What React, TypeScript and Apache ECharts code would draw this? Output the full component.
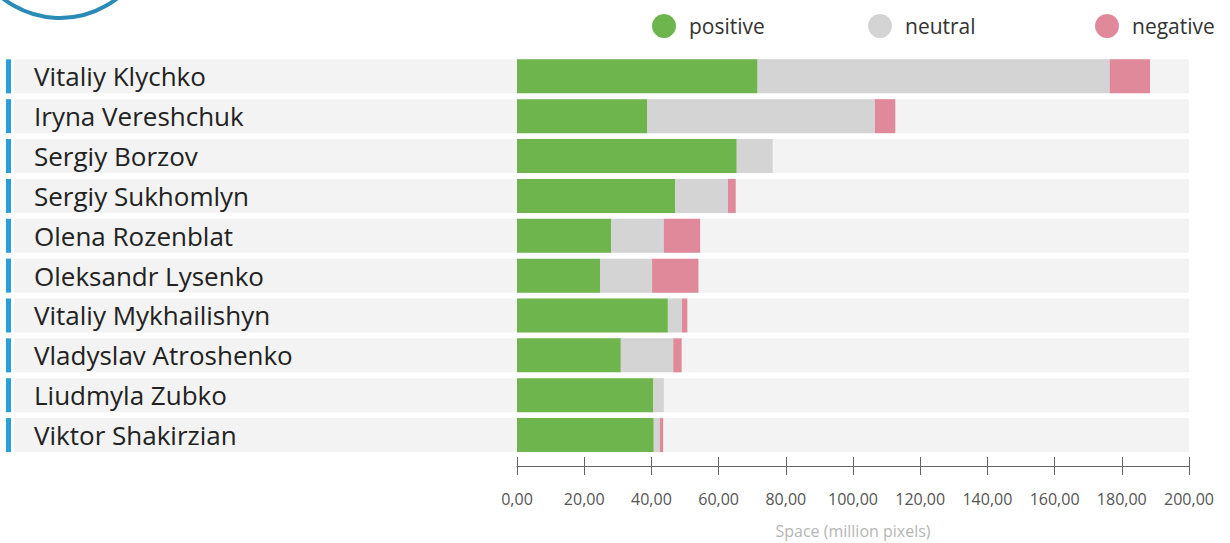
import React, { useEffect, useRef } from "react";
import * as echarts from "echarts";

const names = [
  "Vitaliy Klychko",
  "Iryna Vereshchuk",
  "Sergiy Borzov",
  "Sergiy Sukhomlyn",
  "Olena Rozenblat",
  "Oleksandr Lysenko",
  "Vitaliy Mykhailishyn",
  "Vladyslav Atroshenko",
  "Liudmyla Zubko",
  "Viktor Shakirzian",
];
const positive = [71.6, 38.8, 65.4, 47.1, 28.0, 24.7, 44.9, 30.9, 40.6, 40.7];
const neutral = [104.8, 67.7, 10.7, 15.7, 15.7, 15.5, 4.2, 15.6, 3.1, 1.8];
const negative = [12.0, 6.1, 0, 2.3, 10.8, 13.8, 1.6, 2.5, 0, 1.0];
const seriesNames = ["positive", "neutral", "negative"];
const colors = ["#6db54c", "#d4d4d4", "#e0899a"];
const xMin = 0;
const xMax = 200;
const xStep = 20;
const axisTitle = "Space (million pixels)";

const FONT = "'Open Sans', 'Noto Sans', sans-serif";

export default function App() {
  const ref = useRef<HTMLDivElement>(null);
  useEffect(() => {
    if (!ref.current) return;
    const chart = echarts.init(ref.current, undefined, { renderer: "svg" });
    const gridTop = 56.4;
    const gridHeight = 398.6;
    const barW = 34;
    const fmt = (v: number) => v.toFixed(2).replace(".", ",");
    const legendLefts = [652, 868, 1095];
    const gridBase = {
      top: gridTop,
      height: gridHeight,
      containLabel: false,
      outerBoundsMode: "none",
    };
    chart.setOption({
      animation: false,
      backgroundColor: "#ffffff",
      textStyle: { fontFamily: FONT },
      graphic: [
        {
          type: "circle",
          shape: { cx: 60, cy: -75, r: 93 },
          style: { fill: "none", stroke: "#2a8ab8", lineWidth: 4 },
          silent: true,
        },
      ],
      legend: seriesNames.map((n, i) => ({
        data: [{ name: n, itemStyle: { color: colors[i] } }],
        left: legendLefts[i],
        top: 14,
        icon: "circle",
        itemWidth: 24,
        itemHeight: 24,
        padding: 0,
        selectedMode: false,
        textStyle: {
          fontSize: 21,
          color: "#333333",
          fontFamily: FONT,
          padding: [0, 0, 0, 8],
        },
      })),
      grid: [
        { ...gridBase, left: 517, right: 41 },
        { ...gridBase, left: 14, right: 41 },
        { ...gridBase, left: 6, width: 5 },
      ],
      xAxis: [
        {
          gridIndex: 0,
          type: "value",
          min: xMin,
          max: xMax,
          interval: xStep,
          position: "bottom",
          offset: 11,
          z: 10,
          axisLine: { show: true, lineStyle: { color: "#666666", width: 1 } },
          axisTick: { show: true, length: 9, lineStyle: { color: "#666666" } },
          splitLine: { show: false },
          axisLabel: {
            formatter: fmt,
            fontSize: 16,
            color: "#555555",
            margin: 25,
            fontFamily: FONT,
          },
          name: axisTitle,
          nameLocation: "middle",
          nameGap: 57,
          nameTextStyle: { color: "#b5b5b5", fontSize: 16, fontFamily: FONT },
        },
        {
          gridIndex: 0,
          type: "value",
          min: xMin,
          max: xMax,
          interval: xStep,
          position: "bottom",
          offset: 11,
          z: 10,
          axisLine: { show: false },
          axisTick: { show: true, inside: true, length: 9, lineStyle: { color: "#666666" } },
          splitLine: { show: false },
          axisLabel: { show: false },
        },
        { gridIndex: 1, type: "value", min: 0, max: 1, show: false },
        { gridIndex: 2, type: "value", min: 0, max: 1, show: false },
      ],
      yAxis: [
        {
          gridIndex: 0,
          type: "category",
          inverse: true,
          data: names,
          z: 10,
          axisLine: { show: false },
          axisTick: { show: false },
          axisLabel: {
            align: "left",
            margin: 483,
            fontSize: 26,
            color: "#222222",
            fontFamily: FONT,
          },
        },
        { gridIndex: 1, type: "category", inverse: true, data: names, show: false },
        { gridIndex: 2, type: "category", inverse: true, data: names, show: false },
      ],
      series: [
        {
          name: "band",
          type: "bar",
          xAxisIndex: 2,
          yAxisIndex: 1,
          data: names.map(() => 1),
          barWidth: barW,
          itemStyle: { color: "#f3f3f3" },
          silent: true,
          z: 1,
        },
        {
          name: "marker",
          type: "bar",
          xAxisIndex: 3,
          yAxisIndex: 2,
          data: names.map(() => 1),
          barWidth: barW,
          itemStyle: { color: "#27a0d9" },
          silent: true,
          z: 1,
        },
        ...[positive, neutral, negative].map((d, i) => ({
          name: seriesNames[i],
          type: "bar",
          stack: "total",
          xAxisIndex: 0,
          yAxisIndex: 0,
          data: d,
          barWidth: barW,
          itemStyle: { color: colors[i] },
          z: 3,
        })),
      ],
    });
    return () => chart.dispose();
  }, []);
  return (
    <div
      ref={ref}
      style={{ position: "absolute", left: 0, top: 0, width: 1230, height: 543 }}
    />
  );
}
